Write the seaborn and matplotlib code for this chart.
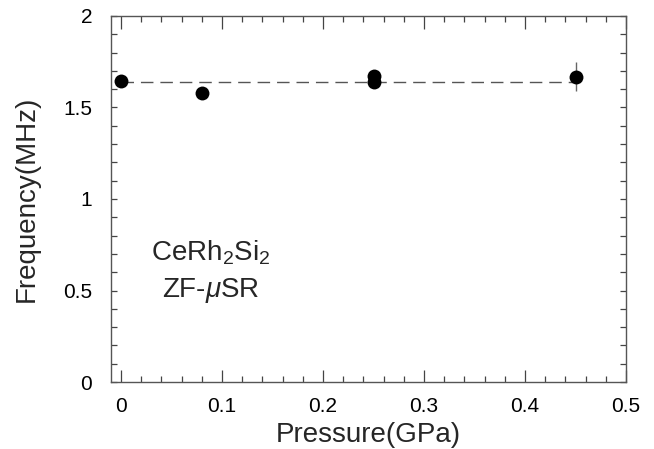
import matplotlib
matplotlib.use("Agg")
import matplotlib.pyplot as plt
from matplotlib.ticker import MultipleLocator
import seaborn as sns
import pandas as pd

# Data
pressure = [0.0, 0.08, 0.25, 0.25, 0.45]
frequency = [1.645, 1.58, 1.672, 1.638, 1.668]
freq_err = [0.0, 0.0, 0.0, 0.0, 0.08]
fit_x = [0.0, 0.45]
fit_y = [1.64, 1.64]

x_ticks = [0, 0.1, 0.2, 0.3, 0.4, 0.5]
x_tick_labels = ["0", "0.1", "0.2", "0.3", "0.4", "0.5"]
y_ticks = [0, 0.5, 1, 1.5, 2]
y_tick_labels = ["0", "0.5", "1", "1.5", "2"]

sns.set_theme(style="ticks")
plt.rcParams['font.family'] = ['Liberation Sans', 'DejaVu Sans']
plt.rcParams['mathtext.fontset'] = 'custom'
plt.rcParams['mathtext.rm'] = 'Liberation Sans'
plt.rcParams['mathtext.it'] = 'Liberation Sans:italic'

df = pd.DataFrame({"p": pressure, "f": frequency})
fit_df = pd.DataFrame({"p": fit_x, "f": fit_y})

fig = plt.figure(figsize=(6.54, 4.49), dpi=100)
ax = fig.add_axes([0.1697, 0.1492, 0.9572 - 0.1697, 0.9644 - 0.1492])

sns.lineplot(data=fit_df, x="p", y="f", ax=ax, color="#555555", lw=1.0,
             dashes=False, linestyle=(0, (9, 5)), zorder=1)
ax.errorbar(pressure, frequency, yerr=freq_err, fmt="none", ecolor="#666666",
            elinewidth=1.0, capsize=0, zorder=2)
sns.scatterplot(data=df, x="p", y="f", ax=ax, color="black", s=100,
                edgecolor="black", linewidth=0, zorder=3)

ax.set_xlim(-0.01, 0.5)
ax.set_ylim(0, 2)
ax.set_xticks(x_ticks)
ax.set_xticklabels(x_tick_labels)
ax.set_yticks(y_ticks)
ax.set_yticklabels(y_tick_labels)
ax.xaxis.set_minor_locator(MultipleLocator(0.02))
ax.yaxis.set_minor_locator(MultipleLocator(0.1))
ax.tick_params(which="both", direction="in", top=True, right=True,
               colors="#444444", labelcolor="black", width=0.9)
ax.tick_params(axis="x", which="major", length=9, labelsize=15, pad=11)
ax.tick_params(axis="x", which="minor", length=4.5)
ax.tick_params(axis="y", which="major", length=4, labelsize=15, pad=13.5)
ax.tick_params(axis="y", which="minor", length=4)
for s in ax.spines.values():
    s.set_color("#555555")
    s.set_linewidth(1.0)

ax.set_xlabel("Pressure(GPa)", fontsize=20, labelpad=4)
ax.set_ylabel("Frequency(MHz)", fontsize=20, labelpad=17)

ax.text(0.089, 0.705, r"CeRh$_2$Si$_2$", fontsize=20, ha="center", va="center")
ax.text(0.089, 0.5, r"ZF-$\mu$SR", fontsize=20, ha="center", va="center")

fig.savefig("out.png", dpi=100)
